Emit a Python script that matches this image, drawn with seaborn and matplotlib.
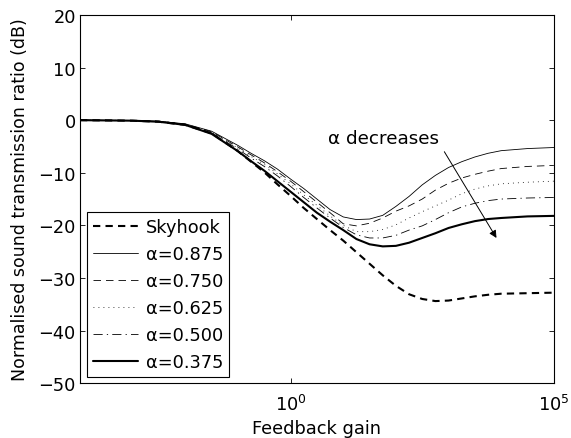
import numpy as np
import pandas as pd
import matplotlib
matplotlib.use("Agg")
import matplotlib.pyplot as plt
import seaborn as sns

# feedback gain, as powers of ten
log_gain = [-4, -3, -2.5, -2, -1.5, -1, -0.75, -0.5, -0.25, 0, 0.25, 0.5, 0.75, 1.0,
            1.25, 1.5, 1.75, 2.0, 2.25, 2.5, 2.75, 3.0, 3.25, 3.5, 3.75, 4.0, 4.5, 5.0]

skyhook = [0, -0.1, -0.3, -0.9, -2.5, -5.9, -7.9, -9.9, -12.2, -14.4, -16.7, -18.8, -20.9, -22.9,
           -25.1, -27.3, -29.5, -31.5, -33.1, -34.0, -34.4, -34.3, -33.9, -33.5, -33.2, -33.0, -32.9, -32.8]
a875 = [0, -0.05, -0.2, -0.7, -2.1, -4.8, -6.3, -7.7, -9.3, -11.2, -13.0, -15.0, -17.0, -18.4,
        -18.9, -18.8, -18.1, -16.4, -14.5, -12.3, -10.5, -9.0, -7.9, -7.0, -6.3, -5.8, -5.4, -5.2]
a750 = [0, -0.05, -0.2, -0.75, -2.2, -5.1, -6.6, -8.1, -9.8, -11.6, -13.6, -15.6, -17.6, -19.7,
        -20.1, -19.6, -18.6, -17.3, -16.3, -15.0, -13.3, -12.0, -11.0, -10.3, -9.7, -9.2, -8.8, -8.6]
a625 = [0, -0.05, -0.25, -0.8, -2.3, -5.3, -6.9, -8.4, -10.2, -12.1, -14.2, -16.2, -18.2, -20.0,
        -21.2, -21.2, -20.8, -19.9, -18.6, -17.4, -16.3, -15.2, -14.0, -13.1, -12.5, -12.1, -11.8, -11.6]
a500 = [0, -0.1, -0.25, -0.85, -2.4, -5.5, -7.2, -8.8, -10.6, -12.6, -14.7, -16.7, -18.6, -20.4,
        -21.8, -22.4, -22.4, -21.9, -20.9, -20.1, -18.9, -17.6, -16.5, -15.8, -15.3, -15.0, -14.8, -14.7]
a375 = [0, -0.1, -0.3, -0.9, -2.6, -5.9, -7.8, -9.6, -11.6, -13.6, -15.6, -17.6, -19.3, -20.9,
        -22.6, -23.6, -24.0, -23.9, -23.3, -22.4, -21.5, -20.5, -19.8, -19.2, -18.8, -18.6, -18.3, -18.2]

labels = ["Skyhook", "α=0.875", "α=0.750", "α=0.625", "α=0.500", "α=0.375"]
series = [skyhook, a875, a750, a625, a500, a375]
y_ticks = [-50, -40, -30, -20, -10, 0, 10, 20]

sns.set_style("ticks")
plt.rcParams["font.family"] = ["DejaVu Sans"]
plt.rcParams["xtick.direction"] = "in"
plt.rcParams["ytick.direction"] = "in"
plt.rcParams["text.color"] = "black"
plt.rcParams["axes.labelcolor"] = "black"

FS = 12.8

# line styles (width in pt, dash pattern)
styles = [
    dict(lw=1.5, dashes=(3.5, 2.5)),
    dict(lw=0.6, dashes=None),
    dict(lw=0.6, dashes=(9, 6)),
    dict(lw=0.6, dashes=(1, 5)),
    dict(lw=0.6, dashes=(11, 5, 1.5, 5)),
    dict(lw=1.5, dashes=None),
]

gain = 10 ** np.array(log_gain, dtype=float)

fig = plt.figure(figsize=(5.71, 4.39), dpi=100)
ax = fig.add_axes([0.140, 0.125, 0.830, 0.8386])

for lab, vals, st in zip(labels, series, styles):
    df = pd.DataFrame({"gain": gain, "ratio": vals})
    kw = {}
    if st["dashes"] is not None:
        kw["dashes"] = st["dashes"]
    sns.lineplot(data=df, x="gain", y="ratio", ax=ax, color="black",
                 linewidth=st["lw"], label=lab, **kw)

ax.set_xscale("log")
ax.set_xlim(1e-4, 1e5)
ax.set_ylim(-50, 20)
ax.set_xticks([1, 1e5])
ax.xaxis.set_minor_locator(matplotlib.ticker.NullLocator())
ax.set_yticks(y_ticks)
ax.tick_params(axis="both", which="major", labelsize=FS, length=3.5, width=0.6,
               top=True, right=True, colors="black", pad=3)
ax.tick_params(axis="x", pad=8)
for sp in ax.spines.values():
    sp.set_color("black")
    sp.set_linewidth(0.8)

ax.set_xlabel("Feedback gain", fontsize=FS, labelpad=3)
ax.set_ylabel("Normalised sound transmission ratio (dB)", fontsize=12.5, labelpad=7)

ax.text(10 ** 0.72, -3.3, "α decreases", fontsize=13.2, ha="left", va="center")
ax.annotate("", xy=(10 ** 3.91, -22.4), xytext=(10 ** 2.92, -6.0),
            arrowprops=dict(arrowstyle="-|>", color="black", lw=0.7,
                            mutation_scale=11, shrinkA=0, shrinkB=0))

leg = ax.legend(loc="lower left", bbox_to_anchor=(0.0148, 0.0163), borderaxespad=0,
                fontsize=FS, handlelength=2.5, labelspacing=0.5, fancybox=False,
                framealpha=1, edgecolor="black", borderpad=0.35, handletextpad=0.45)
leg.get_frame().set_linewidth(0.8)

fig.savefig("out.png", dpi=100)
